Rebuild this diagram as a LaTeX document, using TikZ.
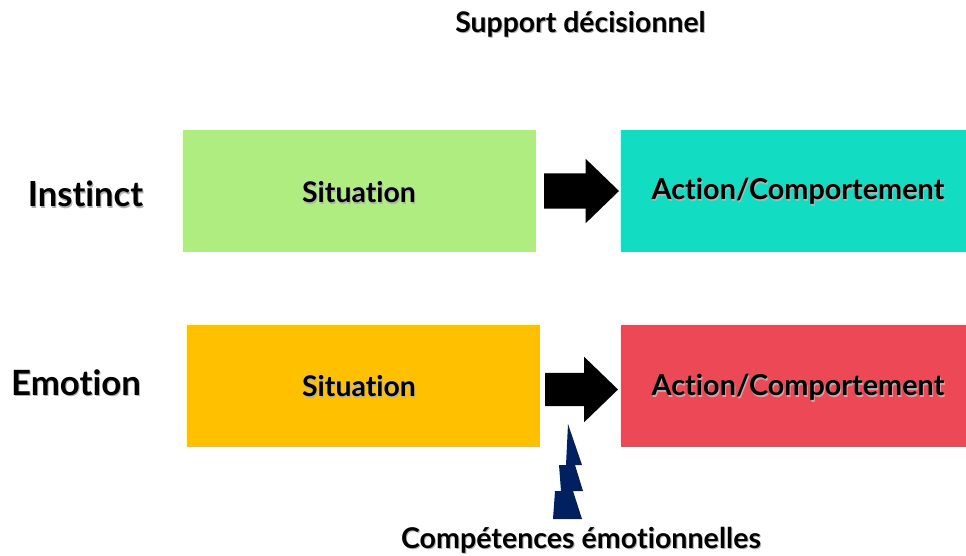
\documentclass[tikz,border=0pt]{standalone}
\usepackage{xcolor}
\usepackage{fontspec}
\setmainfont{Lato}[Ligatures=NoCommon]
\usetikzlibrary{shapes,shapes.arrows,positioning}
\definecolor{boxgreen}{HTML}{AFED80}
\definecolor{boxteal}{HTML}{12DDC2}
\definecolor{boxorange}{HTML}{FFC000}
\definecolor{boxred}{HTML}{EC4855}
\definecolor{boltblue}{HTML}{002060}
\newcommand{\softtext}[1]{\makebox[0pt][l]{\hspace{1pt}\raisebox{-1.5pt}{\textcolor{black!30}{#1}}}#1}
\tikzset{
  box/.style={fill=#1, minimum width=353pt, minimum height=122pt, anchor=north west, inner sep=0pt, outer sep=0pt},
  label/.style={font=\fontsize{#1}{#1}\selectfont\bfseries, inner sep=0pt, text=black},
  bigarrow/.style={single arrow, fill=black, minimum width=64pt, minimum height=76pt, single arrow head extend=14.5pt, single arrow tip angle=88, inner xsep=0pt, inner ysep=17.5pt, outer sep=0pt, anchor=west}
}
\begin{document}
\begin{tikzpicture}[x=1pt,y=-1pt]
    \useasboundingbox (0,0) rectangle (966,555);
    \node (S1) [box=boxgreen] at (183,130) {};
    \node (A1) [box=boxteal,minimum width=345pt] at (621,130) {};
    \node (S2) [box=boxorange] at (187,325) {};
    \node (A2) [box=boxred,minimum width=345pt] at (621,325) {};
    \node (F1) [bigarrow,minimum height=75pt] at (544,191) {};
    \node (F2) [bigarrow,inner ysep=16.5pt,single arrow head extend=16pt,minimum width=65pt,minimum height=73pt] at (545,389.5) {};
    % eclair
    \fill[boltblue] (568,424) -- (582,465) -- (575,465) -- (583,491) -- (573,491) -- (582,519)
      -- (553,519) -- (555,491) -- (561,491) -- (559,465) -- (566,465) -- cycle;
    \node (T) [label=28.4] at (580.5,25) {\softtext{Support décisionnel}};
    \node (I) [label=34.6] at (85.5,195) {\softtext{Instinct}};
    \node (E) [label=34.8] at (76,383) {\softtext{Emotion}};
    \node (S1t) [label=28.4] at (359,193) {\softtext{Situation}};
    \node (S2t) [label=28.4] at (359,387) {\softtext{Situation}};
    \node (A1t) [label=28.8] at (798,192) {\softtext{Action/Comportement}};
    \node (A2t) [label=28.8] at (798,388) {\softtext{Action/Comportement}};
    \node (C) [label=28.6] at (581,541) {\softtext{Compétences émotionnelles}};
\end{tikzpicture}
\end{document}
